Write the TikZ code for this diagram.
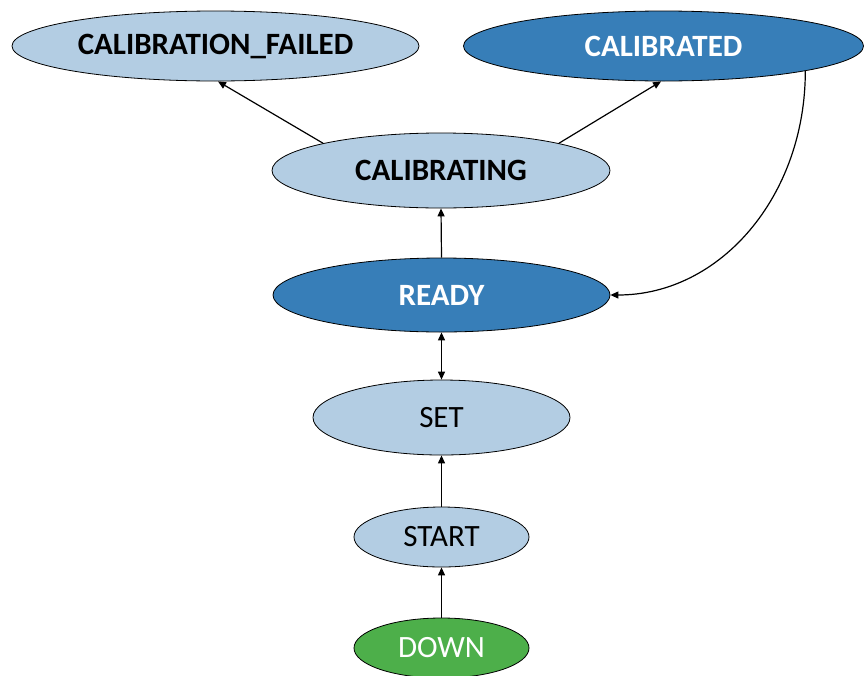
\documentclass[tikz,border=0pt]{standalone}
\usepackage{fontspec}
\setmainfont{Carlito}
\usetikzlibrary{shapes.geometric,arrows.meta}
\definecolor{lightblue}{RGB}{179,205,227}
\definecolor{darkblue}{RGB}{55,126,184}
\definecolor{stategreen}{RGB}{77,175,74}
\tikzset{
  state/.style={ellipse,draw=black,line width=0.8pt,inner sep=0pt,font=\fontsize{31}{36}\selectfont},
  boldstate/.style={font=\fontsize{31}{36}\selectfont\bfseries},
  light/.style={state,fill=lightblue,text=black},
  dark/.style={state,fill=darkblue,text=white},
  green/.style={state,fill=stategreen,text=white},
  conn/.style={line width=1.2pt,-{Triangle[length=8pt,width=7pt]}},
  biconn/.style={line width=1.2pt,{Triangle[length=8pt,width=7pt]}-{Triangle[length=8pt,width=7pt]}}
}
\begin{document}
\begin{tikzpicture}[x=1pt,y=-1pt]
\useasboundingbox (0,0) rectangle (864,675);
\node[light,boldstate,minimum width=407pt,minimum height=70pt] (cf) at (215.5,46) {CALIBRATION\_FAILED};
\node[dark,boldstate,minimum width=400pt,minimum height=70pt] (cd) at (663.5,46) {CALIBRATED};
\node[light,boldstate,minimum width=338pt,minimum height=75pt] (cing) at (441,170.5) {CALIBRATING};
\node[dark,boldstate,minimum width=337pt,minimum height=74pt] (ready) at (441.5,295) {READY};
\node[light,minimum width=257pt,minimum height=75pt] (set) at (441.5,417.5) {SET};
\node[light,minimum width=175pt,minimum height=60pt] (start) at (441.5,537) {START};
\node[green,minimum width=175pt,minimum height=60pt] (down) at (441.5,648) {DOWN};

\draw[conn] (cing.167) -- (cf.274);
\draw[conn] (cing.13) -- (cd.266);
\draw[conn] (ready.north) -- (cing.south);
\draw[conn] (cd.350) .. controls +(0,125) and +(110,0) .. (ready.east);
\draw[biconn] (ready.south) -- (set.north);
\draw[conn] (start.north) -- (set.south);
\draw[conn] (down.north) -- (start.south);
\end{tikzpicture}
\end{document}
